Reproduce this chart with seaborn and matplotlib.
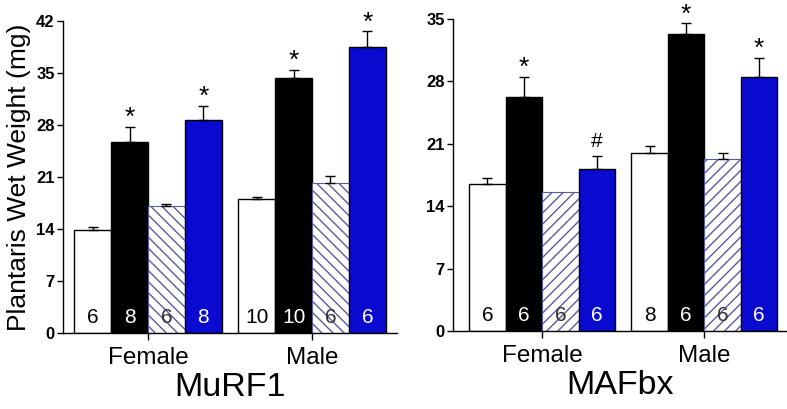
import matplotlib
matplotlib.use("Agg")
import matplotlib.pyplot as plt
import seaborn as sns
import pandas as pd
import numpy as np

sexes = ["Female", "Male"]
groups = ["G1", "G2", "G3", "G4"]

murf1_means = [13.9, 25.7, 17.1, 28.7, 18.0, 34.3, 20.2, 38.5]
murf1_errs = [0.4, 2.0, 0.3, 1.9, 0.3, 1.1, 0.9, 2.1]
murf1_n = ["6", "8", "6", "8", "10", "10", "6", "6"]
murf1_marks = ["", "*", "", "*", "", "*", "", "*"]

mafbx_means = [16.5, 26.3, 15.6, 18.2, 20.0, 33.3, 19.3, 28.5]
mafbx_errs = [0.7, 2.2, 0.0, 1.4, 0.7, 1.2, 0.7, 2.1]
mafbx_n = ["6", "6", "6", "6", "8", "6", "6", "6"]
mafbx_marks = ["", "*", "", "#", "", "*", "", "*"]

bar_colors = ["white", "black", "white", "#0a0ad0"]
text_colors = ["black", "white", "#333333", "white"]
hatch_color = "#5a5aa0"

plt.rcParams["font.family"] = ["Liberation Sans", "DejaVu Sans"]

fig = plt.figure(figsize=(7.87, 4.09), dpi=100)
ax1 = fig.add_axes([63 / 787, 76 / 409, 334 / 787, 312 / 409])
ax2 = fig.add_axes([453 / 787, 78 / 409, 334 / 787, 312 / 409])


def draw(ax, means, errs, ns, marks, ymax, title, hatch, xlim):
    df = pd.DataFrame({
        "sex": [s for s in sexes for _ in groups],
        "group": groups * len(sexes),
        "value": means,
    })
    sns.barplot(data=df, x="sex", y="value", hue="group", order=sexes,
                hue_order=groups, palette=bar_colors, width=0.9,
                edgecolor="black", linewidth=1.0, errorbar=None,
                legend=False, ax=ax, saturation=1)
    patches = sorted([p for p in ax.patches if p.get_height() > 0],
                     key=lambda p: p.get_x())
    for i, p in enumerate(patches):
        gi = i % 4
        cx = p.get_x() + p.get_width() / 2
        top = p.get_height()
        if gi == 2:
            p.set_hatch(hatch)
            p.set_edgecolor(hatch_color)
            p.set_linewidth(0.8)
        if errs[i] > 0:
            ax.errorbar([cx], [top], yerr=[[0], [errs[i]]], fmt="none",
                        ecolor="black", elinewidth=1.0, capsize=3.5,
                        capthick=1.0)
        if marks[i]:
            if marks[i] == "*":
                ax.annotate("*", (cx, top + errs[i]), xytext=(0, 2),
                            textcoords="offset pixels", ha="center",
                            va="baseline", fontsize=19, color="black",
                            annotation_clip=False)
            else:
                ax.annotate(marks[i], (cx, top + errs[i]), xytext=(0, 9),
                            textcoords="offset pixels", ha="center",
                            va="baseline", fontsize=15, color="black",
                            annotation_clip=False)
        ax.text(cx, ymax * 0.018, ns[i], ha="center", va="bottom",
                fontsize=15, color=text_colors[gi])
    ax.set_ylim(0, ymax)
    ax.set_xlim(*xlim)
    ax.set_yticks(np.arange(0, ymax + 1, 7))
    ax.set_yticklabels([str(int(v)) for v in np.arange(0, ymax + 1, 7)],
                       fontsize=12, fontweight="bold")
    ax.tick_params(axis="x", labelsize=17.5, length=5, width=1, pad=5)
    ax.tick_params(axis="y", length=4, width=1, pad=2)
    ax.set_xlabel(title, fontsize=24.5, labelpad=2)
    ax.set_ylabel("")
    for s in ["top", "right"]:
        ax.spines[s].set_visible(False)
    for s in ["left", "bottom"]:
        ax.spines[s].set_linewidth(1.0)
        ax.spines[s].set_color("black")
    ax.set_facecolor("white")


draw(ax1, murf1_means, murf1_errs, murf1_n, murf1_marks, 42, "MuRF1",
     "\\\\\\", (-0.518, 1.518))
draw(ax2, mafbx_means, mafbx_errs, mafbx_n, mafbx_marks, 35, "MAFbx",
     "///", (-0.55, 1.51))
ax1.set_ylabel("Plantaris Wet Weight (mg)", fontsize=19, labelpad=4)

fig.savefig("out.png", dpi=100, facecolor="white")
